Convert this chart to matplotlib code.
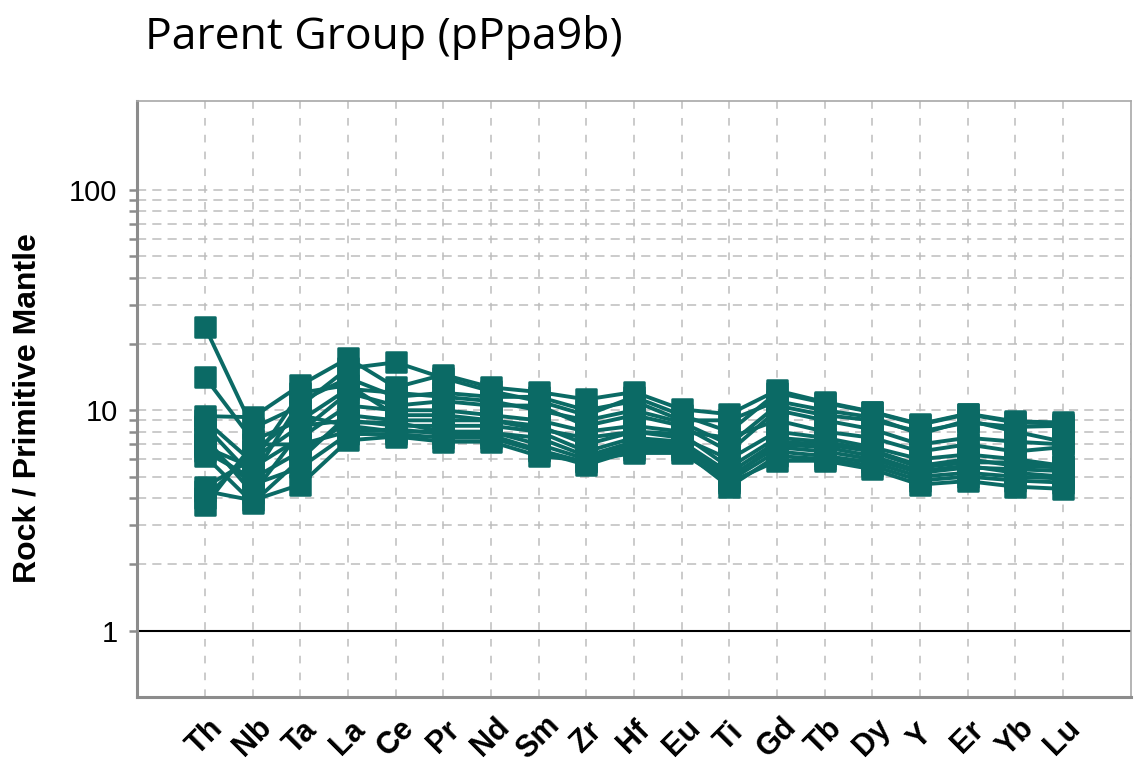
import matplotlib
matplotlib.use("Agg")
import matplotlib.pyplot as plt
from matplotlib.markers import MarkerStyle

# elements along the x axis
elements = ["Th", "Nb", "Ta", "La", "Ce", "Pr", "Nd", "Sm", "Zr", "Hf",
            "Eu", "Ti", "Gd", "Tb", "Dy", "Y", "Er", "Yb", "Lu"]

# rock / primitive mantle values, one list per sample
s01 = [23.8, 8.3, 10.5, 15.5, 16.5, 14.0, 12.2, 11.0, 9.5, 11.5, 9.5, 8.0, 12.0, 10.8, 9.8, 8.6, 9.6, 8.8, 8.7]
s02 = [14.1, 7.3, 9.0, 12.5, 12.0, 11.5, 11.0, 10.0, 9.0, 10.0, 8.8, 7.0, 10.5, 9.5, 9.0, 8.0, 8.8, 8.4, 8.5]
s03 = [9.4, 9.3, 13.0, 17.2, 12.7, 14.5, 12.7, 12.1, 11.2, 12.1, 10.1, 9.6, 12.3, 10.9, 9.85, 8.66, 9.65, 8.9, 8.8]
s04 = [8.5, 5.0, 11.0, 14.0, 11.5, 12.0, 11.5, 11.5, 10.0, 11.0, 9.0, 9.0, 11.0, 10.0, 9.3, 7.8, 9.0, 8.0, 7.2]
s05 = [7.5, 4.2, 8.0, 12.0, 10.5, 11.0, 10.5, 10.5, 8.5, 9.5, 8.5, 6.5, 10.0, 9.0, 8.2, 7.0, 7.5, 7.2, 7.0]
s06 = [6.8, 5.5, 7.5, 10.5, 10.0, 10.0, 9.5, 9.0, 8.0, 8.5, 8.0, 7.5, 9.0, 8.0, 7.5, 6.5, 7.0, 6.5, 6.8]
s07 = [6.2, 3.8, 6.0, 9.5, 9.0, 9.0, 9.0, 8.5, 7.0, 8.0, 7.5, 6.0, 8.0, 7.5, 6.8, 6.0, 6.3, 6.0, 5.6]
s08 = [4.5, 6.0, 8.5, 9.0, 8.5, 8.5, 8.5, 8.0, 6.5, 7.5, 7.2, 5.2, 7.2, 7.0, 6.5, 5.5, 5.8, 5.8, 5.5]
s09 = [4.0, 6.5, 9.5, 8.5, 8.0, 8.0, 8.0, 7.0, 6.0, 7.0, 7.0, 5.0, 6.8, 6.5, 6.0, 5.2, 5.5, 5.4, 5.3]
s10 = [3.7, 7.0, 7.0, 8.0, 8.2, 7.8, 7.7, 6.6, 5.8, 6.8, 6.8, 4.8, 6.5, 6.2, 5.8, 5.0, 5.2, 5.0, 4.9]
s11 = [7.0, 4.6, 5.5, 7.8, 7.8, 7.5, 7.5, 6.5, 5.65, 6.6, 6.6, 4.5, 6.2, 6.0, 5.6, 4.8, 5.0, 4.8, 4.7]
s12 = [4.3, 3.9, 4.6, 7.3, 7.6, 7.2, 7.2, 6.2, 5.9, 6.4, 6.4, 4.7, 5.9, 5.9, 5.4, 4.6, 4.77, 4.5, 4.4]
s13 = [9.0, 5.8, 12.0, 13.0, 9.5, 9.5, 9.0, 8.2, 7.5, 8.0, 7.8, 5.5, 7.5, 7.2, 6.6, 5.6, 6.0, 5.6, 5.5]
s14 = [6.5, 4.9, 6.5, 8.8, 8.8, 8.0, 7.9, 7.5, 6.2, 7.2, 7.2, 4.9, 7.0, 6.8, 6.2, 5.3, 5.6, 5.2, 5.0]
samples = [s01, s02, s03, s04, s05, s06, s07, s08, s09, s10, s11, s12, s13, s14]

major_y = [1, 10, 100]
minor_y = [2, 3, 4, 5, 6, 7, 8, 9, 20, 30, 40, 50, 60, 70, 80, 90]

teal = "#0b6a65"
grid_col = "#bdbdbd"
spine_col = "#8c8c8c"
sans = ["Liberation Sans", "DejaVu Sans"]

fig = plt.figure(figsize=(11.43, 7.77), dpi=100)
ax = fig.add_axes([137 / 1143, 80 / 777, (1131 - 137) / 1143, (697 - 101) / 777])

x = list(range(len(elements)))
sq = MarkerStyle("s", joinstyle="round")
for vals in samples:
    ax.plot(x, vals, color=teal, lw=2.8, marker=sq, ms=14, mew=1.8,
            mec=teal, mfc=teal, solid_joinstyle="round", zorder=3)

ax.axhline(1, color="black", lw=1.5, zorder=2)

ax.set_yscale("log")
ax.set_ylim(0.5, 253)
ax.set_xlim(-1.43, len(elements) - 1 + 1.43)

ax.set_yticks(major_y)
ax.set_yticks(minor_y, minor=True)
ax.set_yticklabels([str(v) for v in major_y], fontsize=21, family=sans)
ax.set_yticklabels([], minor=True)
ax.tick_params(axis="y", which="both", length=6, width=1.8, color=spine_col, pad=8)

ax.set_xticks(x)
ax.set_xticklabels(elements, rotation=45, ha="center", va="center",
                   fontsize=22, fontweight="bold", family=sans)
ax.tick_params(axis="x", length=0, pad=29)

ax.grid(axis="x", which="major", color=grid_col, ls=(0, (5, 6)), lw=1.1, zorder=0)
ax.grid(axis="y", which="both", color=grid_col, ls=(0, (6, 4)), lw=1.1, zorder=0)
ax.set_axisbelow(True)

for side in ["left", "bottom"]:
    ax.spines[side].set_color(spine_col)
    ax.spines[side].set_linewidth(2.2)
for side in ["top", "right"]:
    ax.spines[side].set_color("#a8a8a8")
    ax.spines[side].set_linewidth(1.2)

fig.text(28 / 1143, 1 - 408 / 777, "Rock / Primitive Mantle", rotation=90,
         ha="center", va="center", fontsize=23, fontweight="bold", family=sans)
fig.text(145 / 1143, 1 - 37 / 777, "Parent Group (pPpa9b)", ha="left", va="center",
         fontsize=32, family=["Open Sans", "DejaVu Sans"])

fig.savefig("out.png", dpi=100)
